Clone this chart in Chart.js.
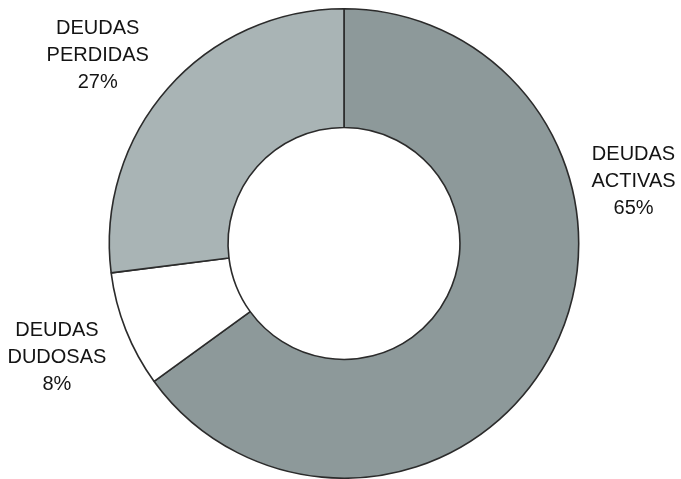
<!DOCTYPE html>
<html>
<head>
<meta charset="utf-8">
<script src="https://cdn.jsdelivr.net/npm/chart.js@4"></script>
<style>
  html, body { margin: 0; padding: 0; background: #fff; }
  #wrap { width: 681px; height: 479px; }
</style>
</head>
<body>
<div id="wrap"><canvas id="chart1"></canvas></div>
<script>
const categories = ['DEUDAS ACTIVAS', 'DEUDAS DUDOSAS', 'DEUDAS PERDIDAS'];
const labelLines = [['DEUDAS', 'ACTIVAS'], ['DEUDAS', 'DUDOSAS'], ['DEUDAS', 'PERDIDAS']];
const shares = [65, 8, 27];
const sliceColors = ['#8d999a', '#ffffff', '#a9b4b5'];

// where each label block sits: angle clockwise from 12 o'clock, distance from centre
const labelPlace = [[78, 296], [248.3, 309], [307.4, 310]];

const sliceLabels = {
  id: 'sliceLabels',
  afterDatasetsDraw(chart) {
    const ctx = chart.ctx;
    const arc = chart.getDatasetMeta(0).data[0];
    const cx = arc.x, cy = arc.y;
    ctx.save();
    ctx.font = '20px "Liberation Sans", Arial, sans-serif';
    ctx.fillStyle = '#141414';
    ctx.textAlign = 'center';
    ctx.textBaseline = 'middle';
    shares.forEach((v, i) => {
      const a = labelPlace[i][0] * Math.PI / 180;
      const d = labelPlace[i][1];
      const x = cx + Math.sin(a) * d;
      const y = cy - Math.cos(a) * d;
      const lines = labelLines[i].concat([v + '%']);
      lines.forEach((t, k) => {
        ctx.fillText(t, x, y + (k - 1) * 27);
      });
    });
    ctx.restore();
  }
};

let MyChart = document.getElementById('chart1').getContext('2d');
new Chart(MyChart, {
  type: 'doughnut',
  data: {
    labels: categories,
    datasets: [{
      data: shares,
      backgroundColor: sliceColors,
      borderColor: '#2b2b2b',
      borderWidth: 1.6,
      hoverOffset: 0
    }]
  },
  options: {
    responsive: true,
    maintainAspectRatio: false,
    animation: false,
    cutout: '49.4%',
    layout: { padding: { top: 8, bottom: 0, left: 7, right: 0 } },
    plugins: {
      legend: { display: false },
      tooltip: { enabled: false }
    }
  },
  plugins: [sliceLabels]
});
</script>
</body>
</html>
